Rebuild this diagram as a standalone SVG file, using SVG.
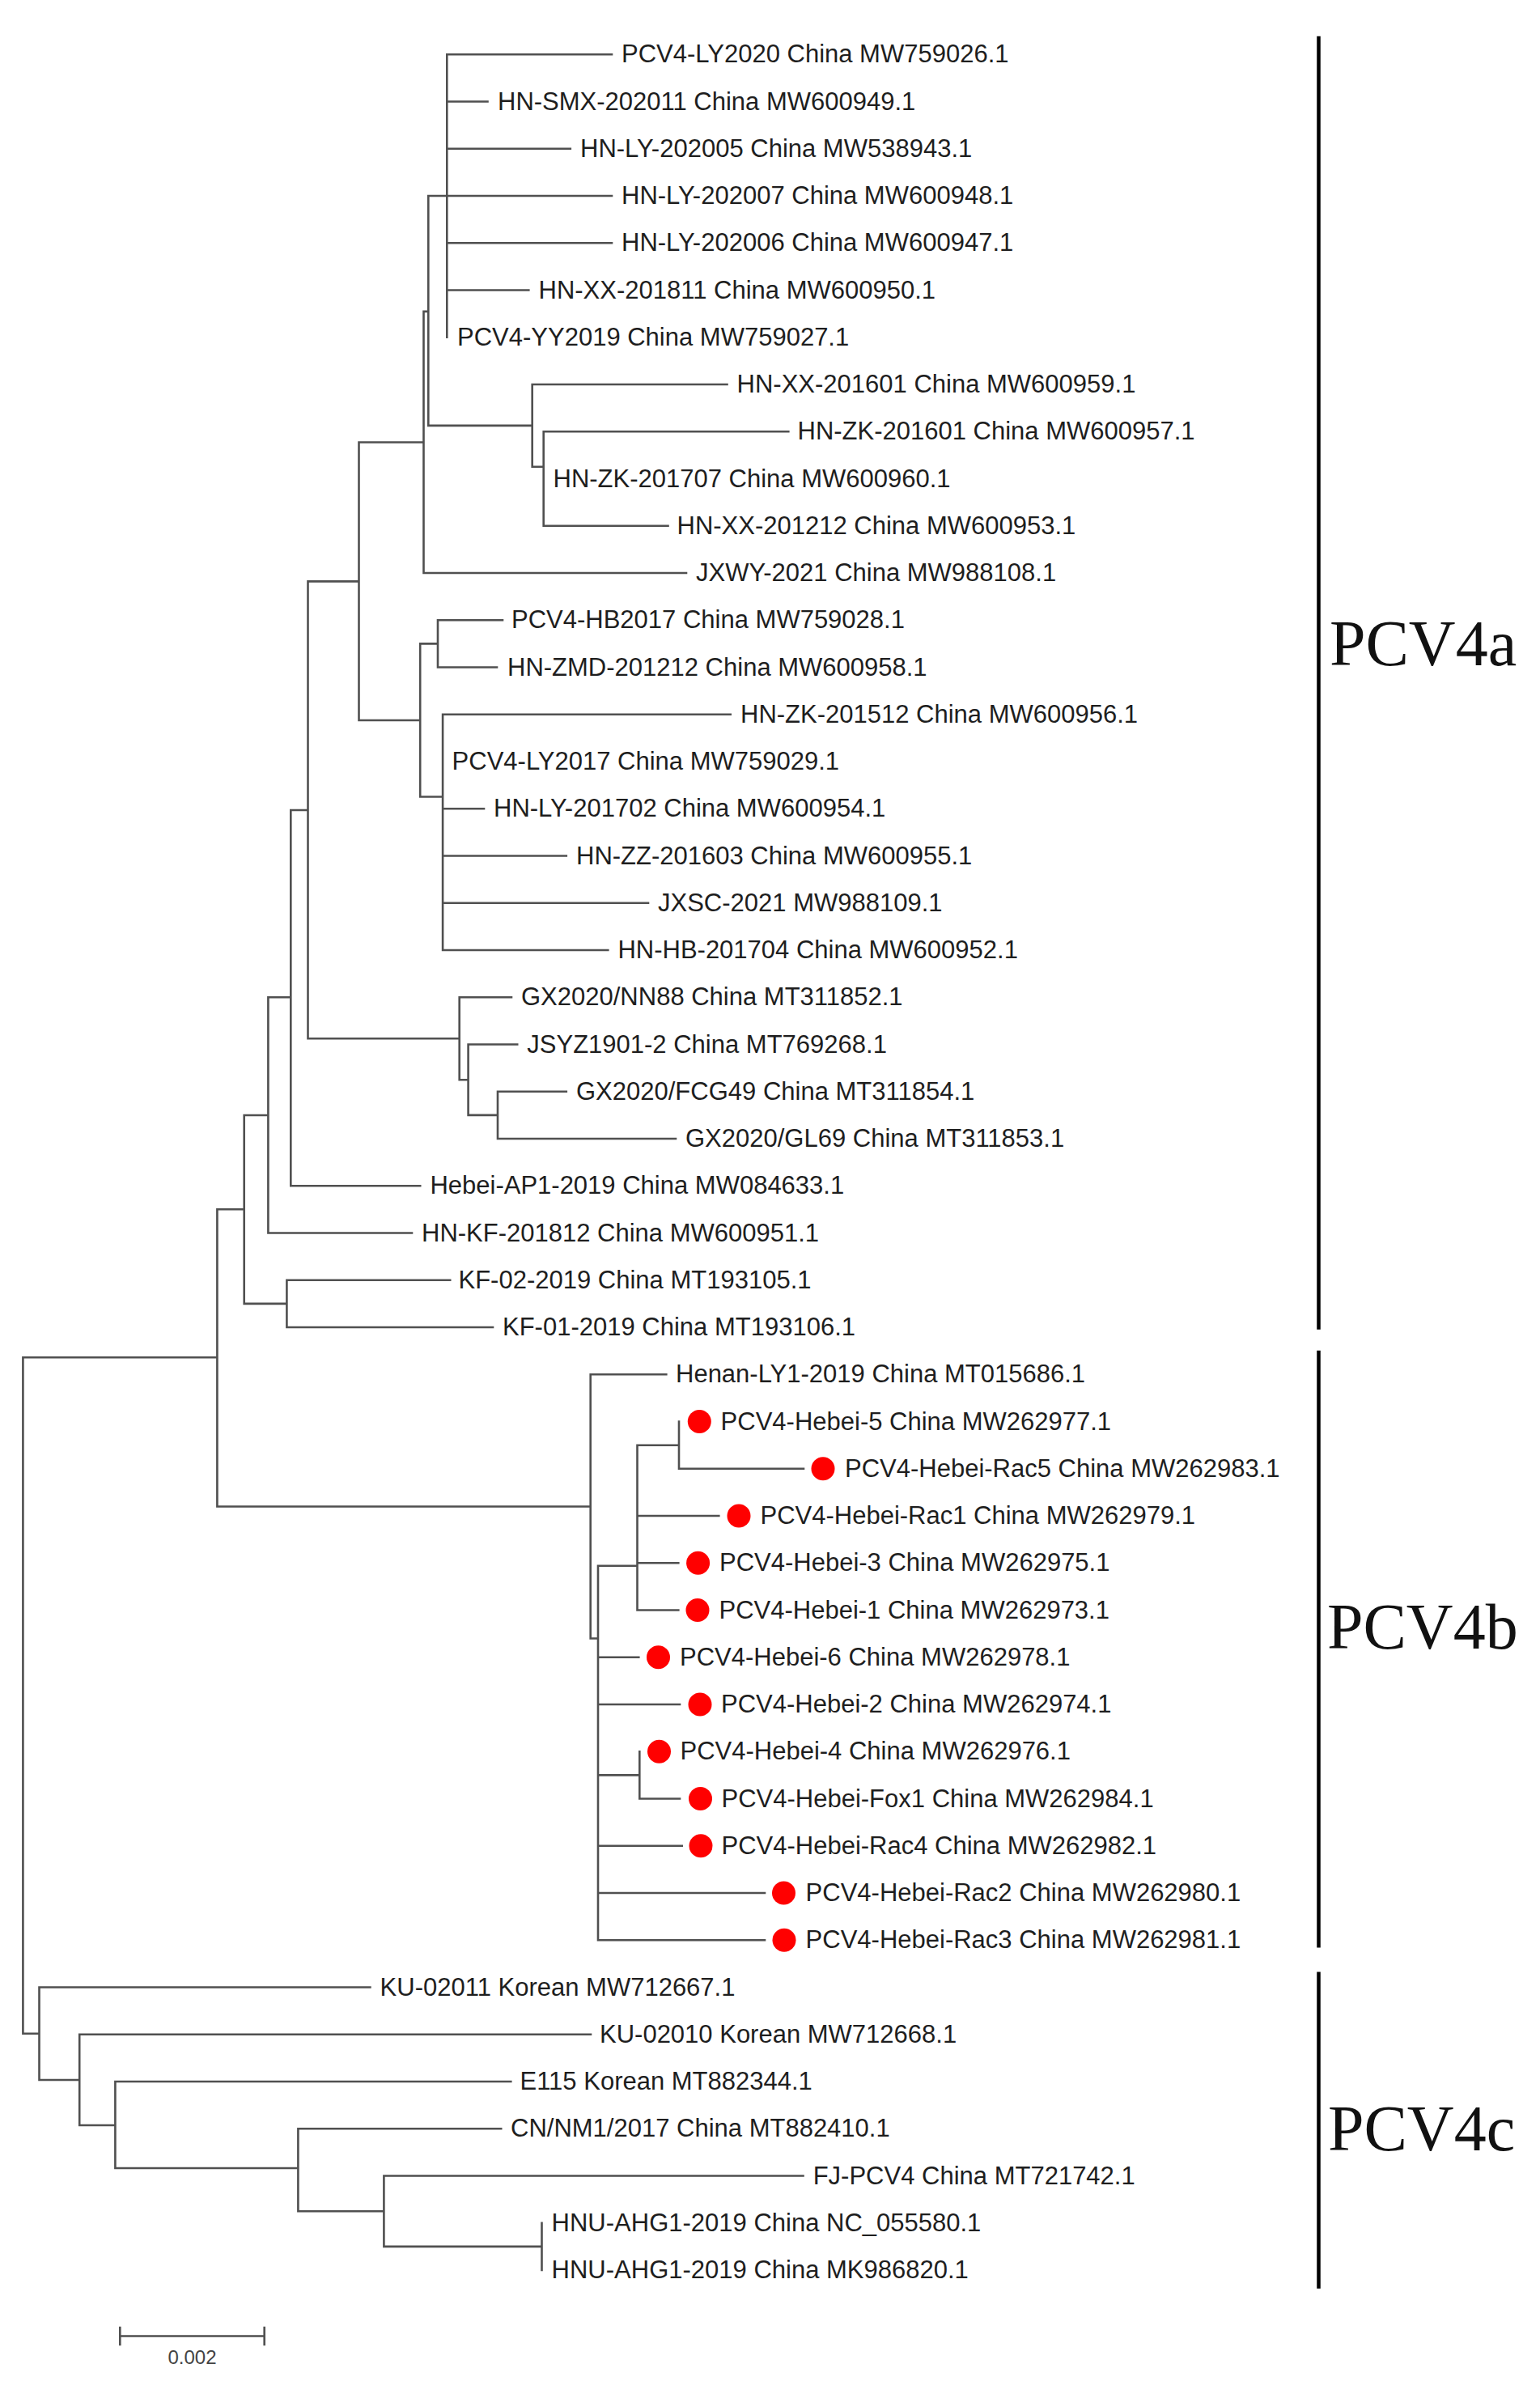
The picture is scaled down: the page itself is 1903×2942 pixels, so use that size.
<svg xmlns="http://www.w3.org/2000/svg" width="1903" height="2942" viewBox="0 0 1903 2942">
<style>
.br{fill:none;stroke:#505050;stroke-width:2.6;stroke-linecap:square}
.lb{font-family:"Liberation Sans",Arial,sans-serif;font-size:31px;fill:#1e1e1e}
.dot{fill:#ff0000}
.bar{stroke:#000;stroke-width:4.5}
.cl{font-family:"Liberation Serif","Times New Roman",serif;font-size:80px;fill:#111}
.sc{font-family:"Liberation Sans",Arial,sans-serif;font-size:24px;fill:#444;text-anchor:middle}
</style>
<rect width="1903" height="2942" fill="#fff"/>
<g id="connectors">
<path class="br" d="M28.4 1677.3V2512.8M28.4 1677.3H268.4M28.4 2512.8H48.5
M268.4 1494.3V1861.5M268.4 1494.3H301.7M268.4 1861.5H729.7
M301.7 1378V1610.9M301.7 1378H331.4M301.7 1610.9H354.4
M354.4 1581.8V1640.05M354.4 1581.8H556.2M354.4 1640.05H609
M331.4 1232.2V1523.55M331.4 1232.2H359.3M331.4 1523.55H509
M359.3 1001V1465.3M359.3 1001H380.5M359.3 1465.3H519.2
M380.5 718.4V1283.3M380.5 718.4H443.5M380.5 1283.3H567.7
M567.7 1232.3V1334.2M567.7 1232.3H632M567.7 1334.2H578.6
M578.6 1290.55V1377.9M578.6 1290.55H639.2M578.6 1377.9H615
M615 1348.8V1407.05M615 1348.8H699.8M615 1407.05H835
M443.5 546.5V890M443.5 546.5H523.5M443.5 890H519.2
M519.2 795.4V984.5M519.2 795.4H541M519.2 984.5H547.1
M541 766.3V824.55M541 766.3H621M541 824.55H614
M547.1 882.8V1174.05M547.1 882.8H902.7M547.1 999.3H598M547.1 1057.55H699.8M547.1 1115.8H801M547.1 1174.05H751.3
M523.5 384.9V708.05M523.5 384.9H529.3M523.5 708.05H848
M529.3 242.05V525.9M529.3 242.05H552.3M529.3 525.9H657.7
M552.3 67.3V416.8M552.3 67.3H756M552.3 125.55H602.5M552.3 183.8H704.8M552.3 242.05H756M552.3 300.3H756M552.3 358.55H653.3
M657.7 475.05V576.8M657.7 475.05H898.5M657.7 576.8H671.7
M671.7 533.3V649.8M671.7 533.3H974.3M671.7 649.8H825.5
M729.7 1698.3V2024.5M729.7 1698.3H823.3M729.7 2024.5H739
M739 1934.8V2397.3M739 1934.8H787.5M739 2047.8H789.3M739 2106.05H840M739 2193.4H790.3M739 2280.8H842.7M739 2339.05H945M739 2397.3H945
M787.5 1785.7V1989.55M787.5 1785.7H839M787.5 1873.05H888.3M787.5 1931.3H838.3M787.5 1989.55H838.3
M839 1756.55V1814.8M839 1814.8H993
M790.3 2164.3V2222.55M790.3 2222.55H840
M48.5 2455.55V2570M48.5 2455.55H457.4M48.5 2570H98.2
M98.2 2513.8V2626M98.2 2513.8H730M98.2 2626H142.4
M142.4 2572.05V2679M142.4 2572.05H631.3M142.4 2679H368.4
M368.4 2630.3V2732.2M368.4 2630.3H619.2M368.4 2732.2H474.4
M474.4 2688.55V2775.9M474.4 2688.55H992.5M474.4 2775.9H669.5
M669.5 2746.8V2805.05"/>
</g>
<g id="leaves">
<g id="n1"><text class="lb" x="768" y="77.3">PCV4-LY2020 China MW759026.1</text></g>
<g id="n2"><text class="lb" x="615" y="135.55">HN-SMX-202011 China MW600949.1</text></g>
<g id="n3"><text class="lb" x="717" y="193.8">HN-LY-202005 China MW538943.1</text></g>
<g id="n4"><text class="lb" x="768" y="252.05">HN-LY-202007 China MW600948.1</text></g>
<g id="n5"><text class="lb" x="768" y="310.3">HN-LY-202006 China MW600947.1</text></g>
<g id="n6"><text class="lb" x="665.5" y="368.55">HN-XX-201811 China MW600950.1</text></g>
<g id="n7"><text class="lb" x="565" y="426.8">PCV4-YY2019 China MW759027.1</text></g>
<g id="n8"><text class="lb" x="910.6" y="485.05">HN-XX-201601 China MW600959.1</text></g>
<g id="n9"><text class="lb" x="985.5" y="543.3">HN-ZK-201601 China MW600957.1</text></g>
<g id="n10"><text class="lb" x="683.5" y="601.55">HN-ZK-201707 China MW600960.1</text></g>
<g id="n11"><text class="lb" x="836.5" y="659.8">HN-XX-201212 China MW600953.1</text></g>
<g id="n12"><text class="lb" x="860" y="718.05">JXWY-2021 China MW988108.1</text></g>
<g id="n13"><text class="lb" x="632" y="776.3">PCV4-HB2017 China MW759028.1</text></g>
<g id="n14"><text class="lb" x="627" y="834.55">HN-ZMD-201212 China MW600958.1</text></g>
<g id="n15"><text class="lb" x="915" y="892.8">HN-ZK-201512 China MW600956.1</text></g>
<g id="n16"><text class="lb" x="558.6" y="951.05">PCV4-LY2017 China MW759029.1</text></g>
<g id="n17"><text class="lb" x="610" y="1009.3">HN-LY-201702 China MW600954.1</text></g>
<g id="n18"><text class="lb" x="712" y="1067.55">HN-ZZ-201603 China MW600955.1</text></g>
<g id="n19"><text class="lb" x="813" y="1125.8">JXSC-2021 MW988109.1</text></g>
<g id="n20"><text class="lb" x="763.4" y="1184.05">HN-HB-201704 China MW600952.1</text></g>
<g id="n21"><text class="lb" x="644" y="1242.3">GX2020/NN88 China MT311852.1</text></g>
<g id="n22"><text class="lb" x="651.3" y="1300.55">JSYZ1901-2 China MT769268.1</text></g>
<g id="n23"><text class="lb" x="712" y="1358.8">GX2020/FCG49 China MT311854.1</text></g>
<g id="n24"><text class="lb" x="847" y="1417.05">GX2020/GL69 China MT311853.1</text></g>
<g id="n25"><text class="lb" x="531.4" y="1475.3">Hebei-AP1-2019 China MW084633.1</text></g>
<g id="n26"><text class="lb" x="521" y="1533.55">HN-KF-201812 China MW600951.1</text></g>
<g id="n27"><text class="lb" x="566.5" y="1591.8">KF-02-2019 China MT193105.1</text></g>
<g id="n28"><text class="lb" x="621" y="1650.05">KF-01-2019 China MT193106.1</text></g>
<g id="n29"><text class="lb" x="835" y="1708.3">Henan-LY1-2019 China MT015686.1</text></g>
<g id="n30"><circle class="dot" cx="864.3" cy="1756.55" r="14.5"/><text class="lb" x="890.6" y="1766.55">PCV4-Hebei-5 China MW262977.1</text></g>
<g id="n31"><circle class="dot" cx="1017" cy="1814.8" r="14.5"/><text class="lb" x="1044" y="1824.8">PCV4-Hebei-Rac5 China MW262983.1</text></g>
<g id="n32"><circle class="dot" cx="913" cy="1873.05" r="14.5"/><text class="lb" x="939.5" y="1883.05">PCV4-Hebei-Rac1 China MW262979.1</text></g>
<g id="n33"><circle class="dot" cx="862.6" cy="1931.3" r="14.5"/><text class="lb" x="889" y="1941.3">PCV4-Hebei-3 China MW262975.1</text></g>
<g id="n34"><circle class="dot" cx="862" cy="1989.55" r="14.5"/><text class="lb" x="888.5" y="1999.55">PCV4-Hebei-1 China MW262973.1</text></g>
<g id="n35"><circle class="dot" cx="813.5" cy="2047.8" r="14.5"/><text class="lb" x="840" y="2057.8">PCV4-Hebei-6 China MW262978.1</text></g>
<g id="n36"><circle class="dot" cx="865" cy="2106.05" r="14.5"/><text class="lb" x="891" y="2116.05">PCV4-Hebei-2 China MW262974.1</text></g>
<g id="n37"><circle class="dot" cx="814.5" cy="2164.3" r="14.5"/><text class="lb" x="840.5" y="2174.3">PCV4-Hebei-4 China MW262976.1</text></g>
<g id="n38"><circle class="dot" cx="865.5" cy="2222.55" r="14.5"/><text class="lb" x="891.5" y="2232.55">PCV4-Hebei-Fox1 China MW262984.1</text></g>
<g id="n39"><circle class="dot" cx="866" cy="2280.8" r="14.5"/><text class="lb" x="891.5" y="2290.8">PCV4-Hebei-Rac4 China MW262982.1</text></g>
<g id="n40"><circle class="dot" cx="968.5" cy="2339.05" r="14.5"/><text class="lb" x="995.6" y="2349.05">PCV4-Hebei-Rac2 China MW262980.1</text></g>
<g id="n41"><circle class="dot" cx="969" cy="2397.3" r="14.5"/><text class="lb" x="995.6" y="2407.3">PCV4-Hebei-Rac3 China MW262981.1</text></g>
<g id="n42"><text class="lb" x="469.6" y="2465.55">KU-02011 Korean MW712667.1</text></g>
<g id="n43"><text class="lb" x="741" y="2523.8">KU-02010 Korean MW712668.1</text></g>
<g id="n44"><text class="lb" x="642.5" y="2582.05">E115 Korean MT882344.1</text></g>
<g id="n45"><text class="lb" x="631" y="2640.3">CN/NM1/2017 China MT882410.1</text></g>
<g id="n46"><text class="lb" x="1004.7" y="2698.55">FJ-PCV4 China MT721742.1</text></g>
<g id="n47"><text class="lb" x="681.6" y="2756.8">HNU-AHG1-2019 China NC_055580.1</text></g>
<g id="n48"><text class="lb" x="681.6" y="2815.05">HNU-AHG1-2019 China MK986820.1</text></g>
</g>
<g id="clade-PCV4a"><line class="bar" x1="1629.5" y1="44.8" x2="1629.5" y2="1642.8"/><text class="cl" x="1643" y="822">PCV4a</text></g>
<g id="clade-PCV4b"><line class="bar" x1="1629.5" y1="1668.8" x2="1629.5" y2="2406.5"/><text class="cl" x="1640" y="2037">PCV4b</text></g>
<g id="clade-PCV4c"><line class="bar" x1="1629.5" y1="2436.4" x2="1629.5" y2="2827.7"/><text class="cl" x="1641" y="2657">PCV4c</text></g>
<g id="scale-bar">
<path class="br" d="M148.3 2886.5H326.7M148.3 2876V2897M326.7 2876V2897"/>
<text class="sc" x="237.5" y="2921">0.002</text>
</g>
</svg>
